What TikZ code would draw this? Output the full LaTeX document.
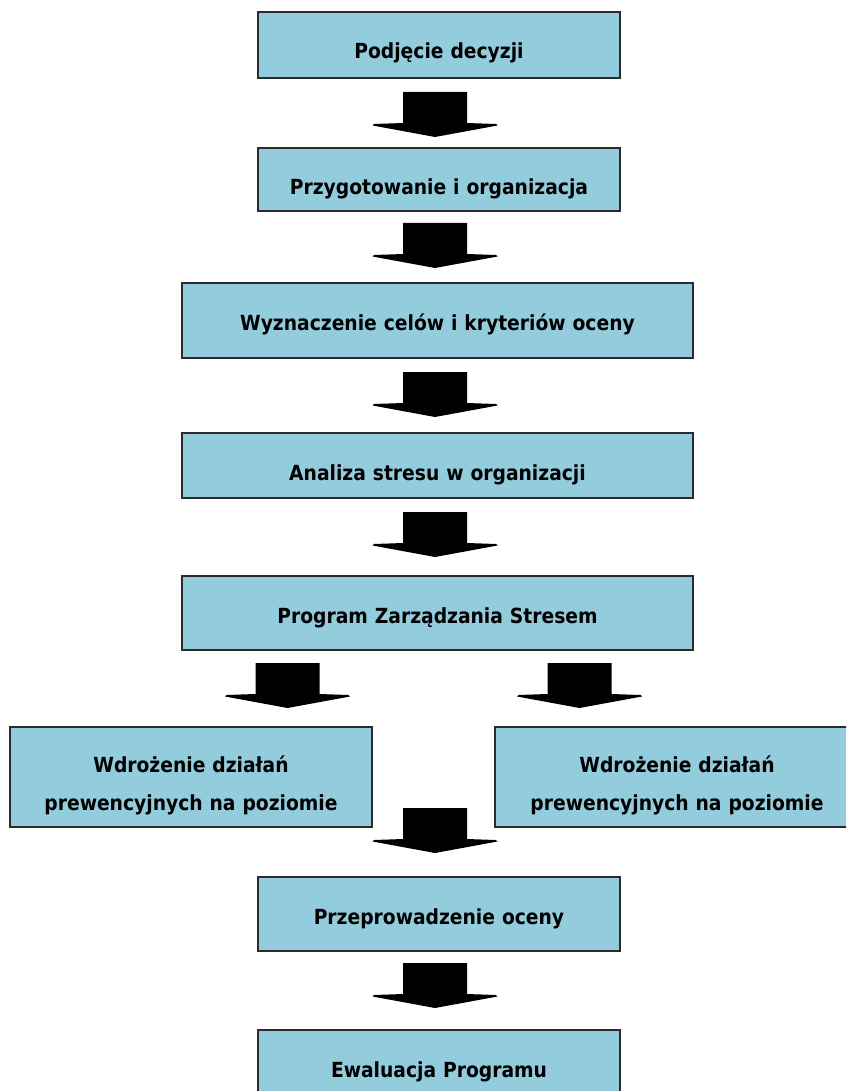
\documentclass[tikz,border=0pt]{standalone}
\usepackage{fontspec}
\setmainfont{DejaVu Sans Condensed}
\usetikzlibrary{calc}
\definecolor{boxfill}{HTML}{93CDDD}
\definecolor{boxline}{HTML}{2B2B2B}
\begin{document}
\begin{tikzpicture}[x=1pt,y=-1pt,
  stage/.style={draw=boxline, line width=1.3pt, fill=boxfill, anchor=north west,
    inner sep=0pt, outer sep=0pt},
  lbl/.style={anchor=base, inner sep=0pt, text width=360pt, align=center,
    font={\fontsize{20.8}{38}\selectfont\bfseries}},
  blockarrow/.pic={\fill[black] (-32,0) -- (32,0) -- (32,31) -- (61,32)
    -- (62.5,33.5) -- (0,45) -- (-62.5,33.5) -- (-61,32) -- (-32,31) -- cycle;}]
\useasboundingbox (0,0) rectangle (846,1091);
\fill[white] (0,0) rectangle (846,1091);
\clip (0,0) rectangle (846,1091);

% stages
\node[stage, minimum width=362pt, minimum height=66pt] (b1) at (258,12) {};
\node[stage, minimum width=362pt, minimum height=63pt] (b2) at (258,148) {};
\node[stage, minimum width=511pt, minimum height=75pt] (b3) at (182,283) {};
\node[stage, minimum width=511pt, minimum height=65pt] (b4) at (182,433) {};
\node[stage, minimum width=511pt, minimum height=74pt] (b5) at (182,576) {};
\node[stage, minimum width=362pt, minimum height=100pt] (b6) at (10,727) {};
\node[stage, minimum width=390pt, minimum height=100pt] (b7) at (495,727) {};
\node[stage, minimum width=362pt, minimum height=74pt] (b8) at (258,877) {};
\node[stage, minimum width=362pt, minimum height=80pt] (b9) at (258,1030) {};

% labels
\node[lbl] (t1) at ($(b1.north)+(0,47)$) {Podjęcie decyzji};
\node[lbl] (t2) at ($(b2.north)+(0,47)$) {Przygotowanie i organizacja};
\node[lbl, text width=500pt] (t3) at ($(b3.north)+(0,47)$) {Wyznaczenie celów i kryteriów oceny};
\node[lbl] (t4) at ($(b4.north)+(0,47)$) {Analiza stresu w organizacji};
\node[lbl] (t5) at ($(b5.north)+(0,47)$) {Program Zarządzania Stresem};
\node[lbl] (t6) at ($(b6.north)+(0,45)$) {Wdrożenie działań\\prewencyjnych na poziomie};
\node[lbl] (t7) at ($(b7.north west)+(182,45)$) {Wdrożenie działań\\prewencyjnych na poziomie};
\node[lbl] (t8) at ($(b8.north)+(0,47)$) {Przeprowadzenie oceny};
\node[lbl] (t9) at ($(b9.north)+(0,47)$) {Ewaluacja Programu};

% block arrows between stages
\pic (a1) at (435,92) {blockarrow};
\pic (a2) at (435,223) {blockarrow};
\pic (a3) at (435,372) {blockarrow};
\pic (a4) at (435,512) {blockarrow};
\pic (a5) at (287.5,663) {blockarrow};
\pic (a6) at (579.5,663) {blockarrow};
\pic (a7) at (435,808) {blockarrow};
\pic (a8) at (435,963) {blockarrow};
\end{tikzpicture}
\end{document}
